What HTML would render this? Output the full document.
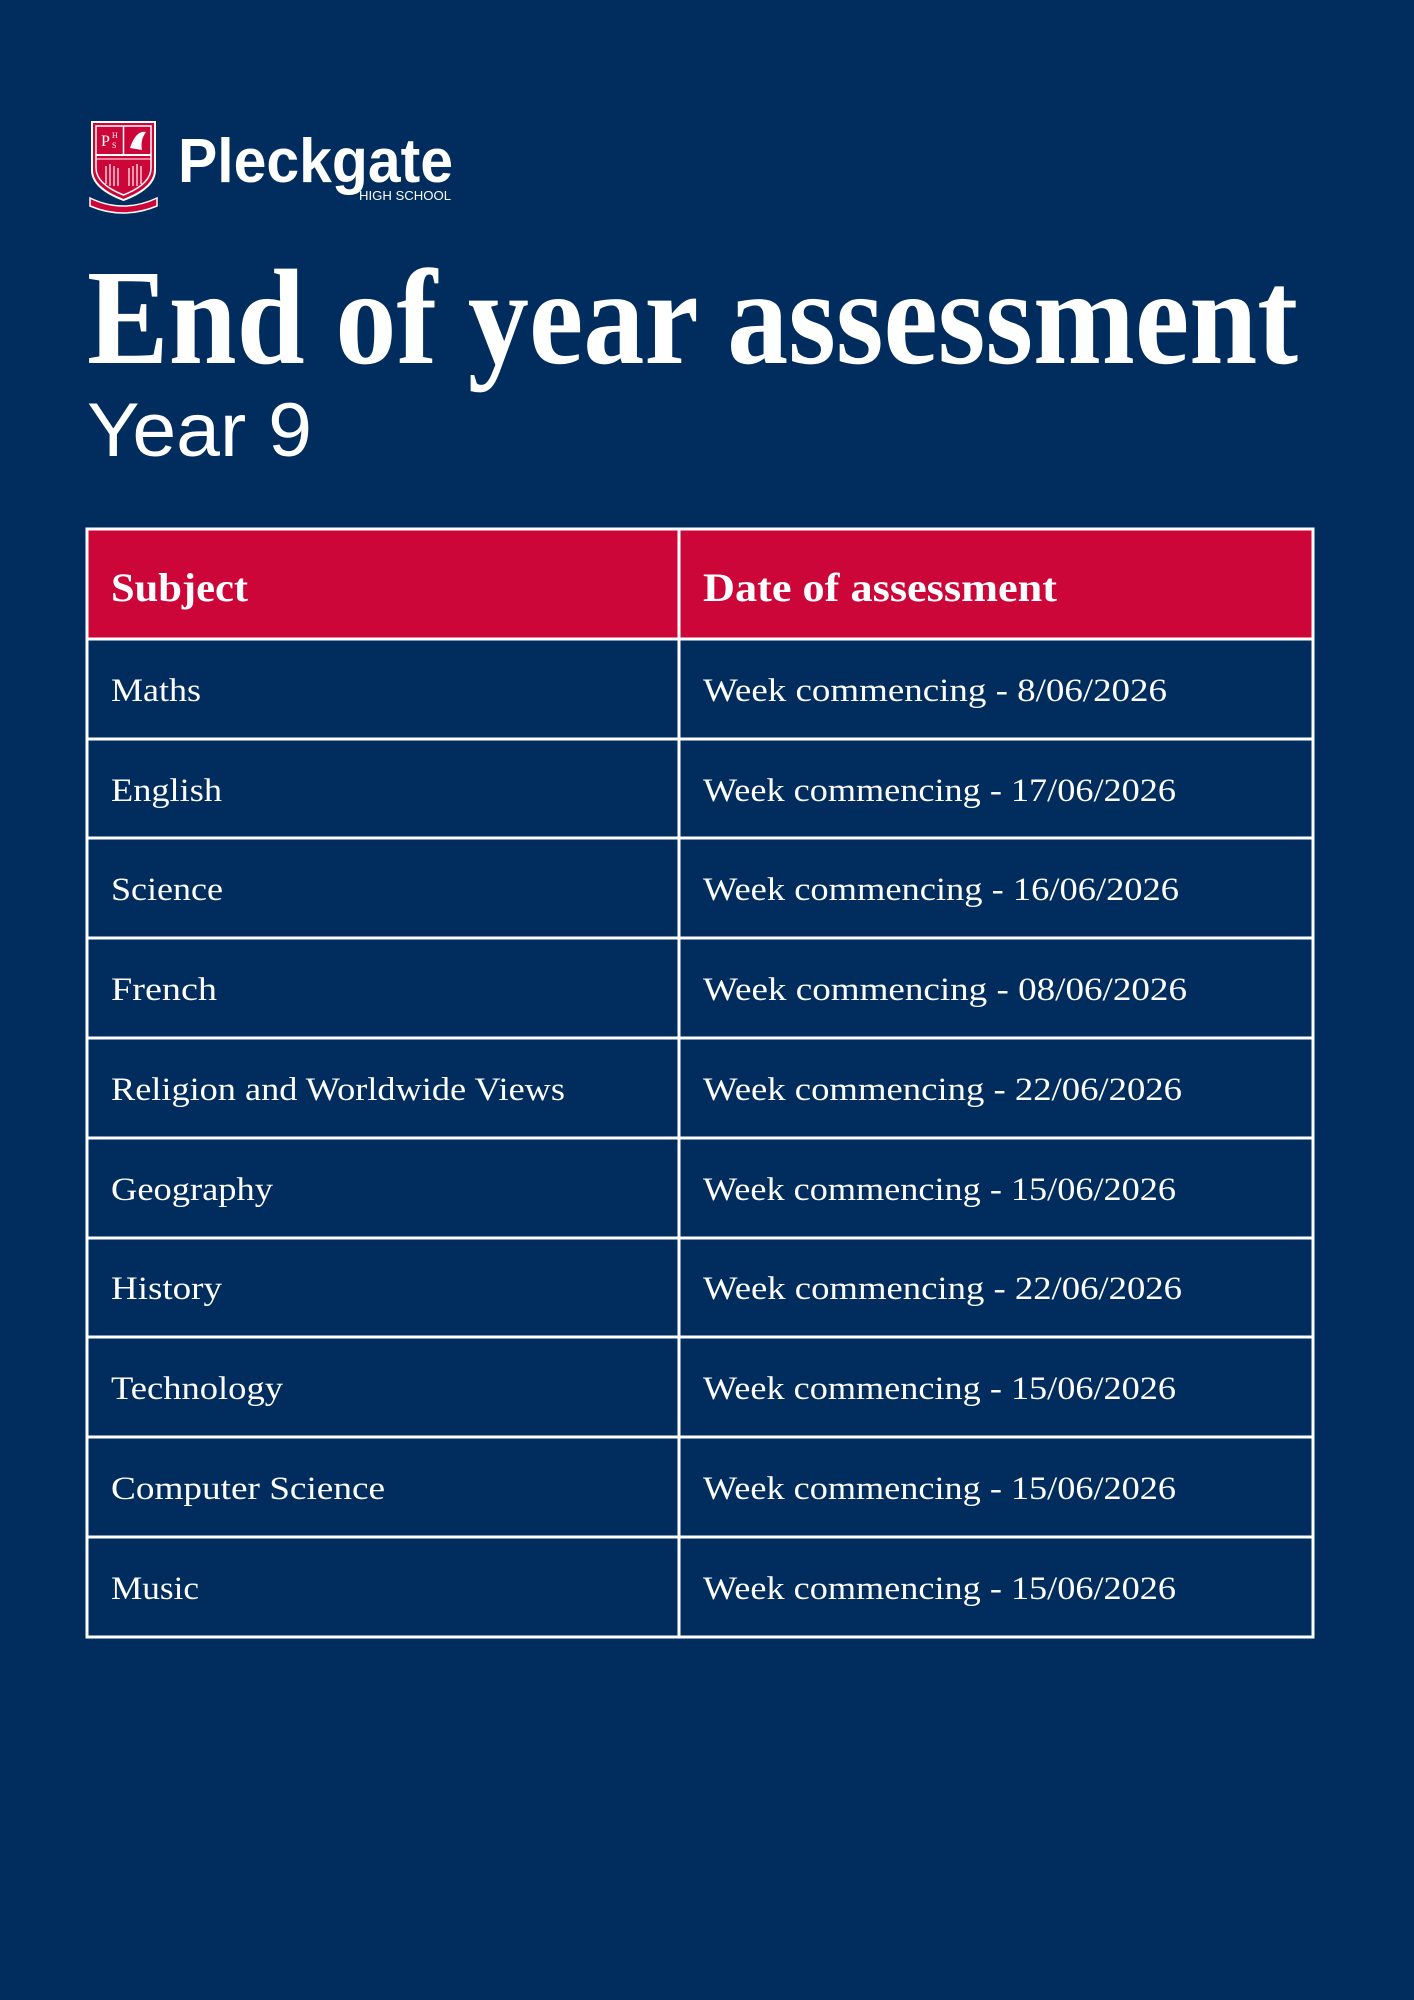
<!DOCTYPE html>
<html><head><meta charset="utf-8"><style>
html,body{margin:0;padding:0;background:#002d5e;}
svg{display:block}
</style></head><body>
<svg width="1414" height="2000" viewBox="0 0 1414 2000" xmlns="http://www.w3.org/2000/svg">
<rect width="1414" height="2000" fill="#002d5e"/>
<g>
<path d="M92 122 H155 V170 Q155 188 123.5 200 Q92 188 92 170 Z" fill="#cc0638" stroke="#fff" stroke-width="2"/>
<path d="M96 126 H151 V168 Q151 184 123.5 195 Q96 184 96 168 Z" fill="none" stroke="#fff" stroke-width="1.5"/>
<line x1="123.5" y1="126" x2="123.5" y2="155" stroke="#fff" stroke-width="1.5"/>
<line x1="96" y1="155" x2="151" y2="155" stroke="#fff" stroke-width="2"/>
<line x1="96" y1="159" x2="151" y2="159" stroke="#fff" stroke-width="1"/>
<text x="101" y="146" font-family="Liberation Serif,serif" font-size="16" fill="#fff">P</text>
<text x="112" y="138" font-family="Liberation Serif,serif" font-size="8" fill="#fff">H</text>
<text x="112" y="148" font-family="Liberation Serif,serif" font-size="8" fill="#fff">S</text>
<path d="M130 148 Q136 130 146 132 Q140 140 142 150 Z" fill="#fff"/>
<g stroke="#fff" stroke-width="1.2"><line x1="106" y1="166" x2="106" y2="184"/><line x1="110" y1="164" x2="110" y2="186"/><line x1="114" y1="166" x2="114" y2="186"/><line x1="118" y1="168" x2="118" y2="186"/><line x1="129" y1="168" x2="129" y2="186"/><line x1="133" y1="166" x2="133" y2="186"/><line x1="137" y1="164" x2="137" y2="186"/><line x1="141" y1="166" x2="141" y2="184"/></g>
<path d="M90 198 Q123 214 157 198 L157 206 Q123 220 90 206 Z" fill="#cc0638" stroke="#fff" stroke-width="1.5"/>
</g>
<text x="178" y="182" font-family="Liberation Sans,sans-serif" font-weight="bold" font-size="62" fill="#fff" textLength="275" lengthAdjust="spacingAndGlyphs">Pleckgate</text>
<text x="451" y="200" text-anchor="end" font-family="Liberation Sans,sans-serif" font-size="13" fill="#fff" textLength="92" lengthAdjust="spacingAndGlyphs">HIGH SCHOOL</text>
<text x="87" y="363" font-family="Liberation Serif,serif" font-weight="bold" font-size="136" fill="#fff" textLength="1211" lengthAdjust="spacingAndGlyphs">End of year assessment</text>
<text x="87" y="456" font-family="Liberation Sans,sans-serif" font-size="76" fill="#fff" textLength="225" lengthAdjust="spacingAndGlyphs">Year 9</text>
<rect x="87" y="529" width="1226" height="110" fill="#cc0638"/>
<g stroke="#fff" stroke-width="3" fill="none">
<rect x="87" y="529" width="1226" height="1108"/>
<line x1="679" y1="529" x2="679" y2="1637"/>
<line x1="87" y1="639" x2="1313" y2="639"/>
<line x1="87" y1="739" x2="1313" y2="739"/>
<line x1="87" y1="838" x2="1313" y2="838"/>
<line x1="87" y1="938" x2="1313" y2="938"/>
<line x1="87" y1="1038" x2="1313" y2="1038"/>
<line x1="87" y1="1138" x2="1313" y2="1138"/>
<line x1="87" y1="1238" x2="1313" y2="1238"/>
<line x1="87" y1="1337" x2="1313" y2="1337"/>
<line x1="87" y1="1437" x2="1313" y2="1437"/>
<line x1="87" y1="1537" x2="1313" y2="1537"/>
</g>
<g font-family="Liberation Serif,serif" fill="#fff">
<text x="111" y="601" font-weight="bold" font-size="40" textLength="137" lengthAdjust="spacingAndGlyphs">Subject</text>
<text x="703" y="601" font-weight="bold" font-size="40" textLength="354" lengthAdjust="spacingAndGlyphs">Date of assessment</text>
</g>
<g font-family="Liberation Serif,serif" fill="#fff" font-size="33" lengthAdjust="spacingAndGlyphs">
<text x="111" y="701" textLength="90" lengthAdjust="spacingAndGlyphs">Maths</text>
<text x="111" y="801" textLength="111" lengthAdjust="spacingAndGlyphs">English</text>
<text x="111" y="900" textLength="112" lengthAdjust="spacingAndGlyphs">Science</text>
<text x="111" y="1000" textLength="106" lengthAdjust="spacingAndGlyphs">French</text>
<text x="111" y="1100" textLength="454" lengthAdjust="spacingAndGlyphs">Religion and Worldwide Views</text>
<text x="111" y="1200" textLength="162" lengthAdjust="spacingAndGlyphs">Geography</text>
<text x="111" y="1299" textLength="111" lengthAdjust="spacingAndGlyphs">History</text>
<text x="111" y="1399" textLength="172" lengthAdjust="spacingAndGlyphs">Technology</text>
<text x="111" y="1499" textLength="274" lengthAdjust="spacingAndGlyphs">Computer Science</text>
<text x="111" y="1599" textLength="88" lengthAdjust="spacingAndGlyphs">Music</text>
<text x="703" y="701" textLength="464" lengthAdjust="spacingAndGlyphs">Week commencing - 8/06/2026</text>
<text x="703" y="801" textLength="473" lengthAdjust="spacingAndGlyphs">Week commencing - 17/06/2026</text>
<text x="703" y="900" textLength="476" lengthAdjust="spacingAndGlyphs">Week commencing - 16/06/2026</text>
<text x="703" y="1000" textLength="484" lengthAdjust="spacingAndGlyphs">Week commencing - 08/06/2026</text>
<text x="703" y="1100" textLength="479" lengthAdjust="spacingAndGlyphs">Week commencing - 22/06/2026</text>
<text x="703" y="1200" textLength="473" lengthAdjust="spacingAndGlyphs">Week commencing - 15/06/2026</text>
<text x="703" y="1299" textLength="479" lengthAdjust="spacingAndGlyphs">Week commencing - 22/06/2026</text>
<text x="703" y="1399" textLength="473" lengthAdjust="spacingAndGlyphs">Week commencing - 15/06/2026</text>
<text x="703" y="1499" textLength="473" lengthAdjust="spacingAndGlyphs">Week commencing - 15/06/2026</text>
<text x="703" y="1599" textLength="473" lengthAdjust="spacingAndGlyphs">Week commencing - 15/06/2026</text>
</g>
</svg>
</body></html>
